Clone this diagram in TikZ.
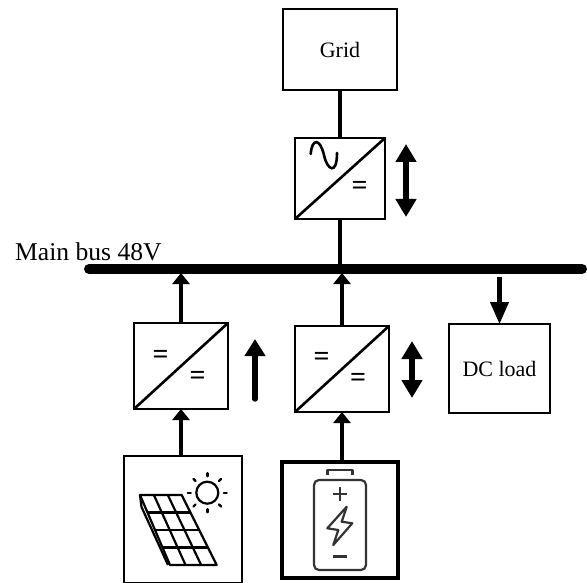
\documentclass[tikz,border=0pt]{standalone}
\usepackage{fontspec}
\setmainfont{Liberation Serif}
\usetikzlibrary{arrows.meta,calc}
\tikzset{
	box/.style={draw,line width=2.8pt,inner sep=0pt,outer sep=0pt},
	convbox/.style={box,minimum width=92pt,minimum height=84pt},
	wire/.style={line width=4pt},
	feed/.style={wire,-{Triangle[width=17pt,length=11pt]}},
	drop/.style={line width=4.2pt,-{Triangle[width=18pt,length=22pt]}},
	flowup/.style={line width=5.4pt,line cap=round,-{Triangle[width=20pt,length=17pt]}},
	flowboth/.style={line width=5.4pt,{Triangle[width=20pt,length=18pt]}-{Triangle[width=20pt,length=18pt]}},
	eqsign/.style={inner sep=0pt,font=\fontsize{28}{28}\selectfont\bfseries},
	label/.style={inner sep=0pt,font=\fontsize{22}{22}\selectfont},
	icon/.style={line width=2.2pt,line join=round},
	cell/.style={line width=2.2pt,draw=black!80,line join=round}
}
\begin{document}
\begin{tikzpicture}[x=1pt,y=-1pt]
	\useasboundingbox (0,0) rectangle (587,583);
	\node[box,label,minimum width=114pt,minimum height=81pt] (grid) at (340,49.5) {Grid};
	\node[convbox,minimum width=90pt,minimum height=81pt] (acdc) at (340,178.5) {};
	\node[convbox,minimum width=94pt,minimum height=86pt] (dcleft) at (181,366) {};
	\node[convbox,minimum width=94pt,minimum height=86pt] (dcmid) at (342,369) {};
	\node[box,label,minimum width=101pt,minimum height=89pt] (dcload) at (499.5,368.5) {DC load};
	\node[box,minimum width=118pt,minimum height=127pt] (solar) at (183,519.5) {};
	\node[box,line width=4.5pt,minimum width=116pt,minimum height=116pt] (battery) at (340,520) {};
	% bus
	\coordinate (busl) at (89,269);
	\coordinate (busr) at (582,269);
	\draw[line width=10pt,line cap=round] (busl) -- (busr);
	\node[inner sep=0pt,anchor=base west,font=\fontsize{25.6}{26}\selectfont] (buslabel) at (15,260) {Main bus 48V};
	\coordinate (busa) at (340,264);
	\coordinate (busb) at (181,273);
	\coordinate (busc) at (342,273);
	\coordinate (busd) at (499.5,277);
	% connectors
	\draw[wire] (grid) -- (acdc);
	\draw[wire] (acdc) -- (busa);
	\draw[feed] (dcleft) -- (busb);
	\draw[feed] (dcmid) -- (busc);
	\draw[drop] (busd) -- (dcload);
	\draw[feed] (solar.north -| dcleft) -- (dcleft);
	\draw[feed] (battery.north -| dcmid) -- (dcmid);
	% diagonals
	\draw[line width=2.6pt] (acdc.south west) -- (acdc.north east);
	\draw[line width=2.6pt] (dcleft.south west) -- (dcleft.north east);
	\draw[line width=2.6pt] (dcmid.south west) -- (dcmid.north east);
	\draw[line width=2.6pt,line cap=round] (310.7,154) .. controls (312,138) and (320,138) .. (324,155) .. controls (327,170) and (337,176) .. (337,153);
	\node[eqsign] (eqa) at (359.5,187.5) {=};
	\node[eqsign] (eqb) at (160.5,356.5) {=};
	\node[eqsign] (eqc) at (197.5,377.5) {=};
	\node[eqsign] (eqd) at (321.5,359) {=};
	\node[eqsign] (eqe) at (358,380) {=};
	% flow direction
	\coordinate (flowaa) at (406,144);
	\coordinate (flowab) at (406,217);
	\coordinate (flowba) at (255,399);
	\coordinate (flowbb) at (255,339);
	\coordinate (flowca) at (412,341);
	\coordinate (flowcb) at (412,398);
	\draw[flowboth] (flowaa) -- (flowab);
	\draw[flowup] (flowba) -- (flowbb);
	\draw[flowboth] (flowca) -- (flowcb);
	% panel
	\draw[icon] (140,495) -- (181.7,495) -- (216.7,565) -- (170,565) -- cycle;
	\draw[icon] (140,495) -- (141.5,507) -- (168,565);
	\foreach \t in {0.25,0.5,0.75}
		\draw[icon] ($(140,495)!\t!(170,565)$) -- ($(181.7,495)!\t!(216.7,565)$);
	\foreach \t in {0.333,0.667}
		\draw[icon] ($(140,495)!\t!(181.7,495)$) -- ($(170,565)!\t!(216.7,565)$);
	\draw[icon] (207.3,492.7) circle (11);
	\foreach \a in {0,45,...,315}
		\draw[line width=2.4pt,line cap=round] (207.3,492.7)+(\a:16.5) -- +(\a:19.5);
	% battery
	\draw[cell,rounded corners=5pt] (314,480) rectangle (366,570);
	\draw[cell] (327.5,475) -- (327.5,470) -- (352.5,470) -- (352.5,475);
	\draw[cell] (333,494) -- (347,494);
	\draw[cell] (340,487) -- (340,501);
	\draw[cell] (333,556.5) -- (347,556.5);
	\draw[cell] (346.7,506.7) -- (327.3,528.3) -- (338.3,530) -- (333.3,545) -- (352.3,523.3) -- (341.7,521.7) -- cycle;
\end{tikzpicture}
\end{document}
